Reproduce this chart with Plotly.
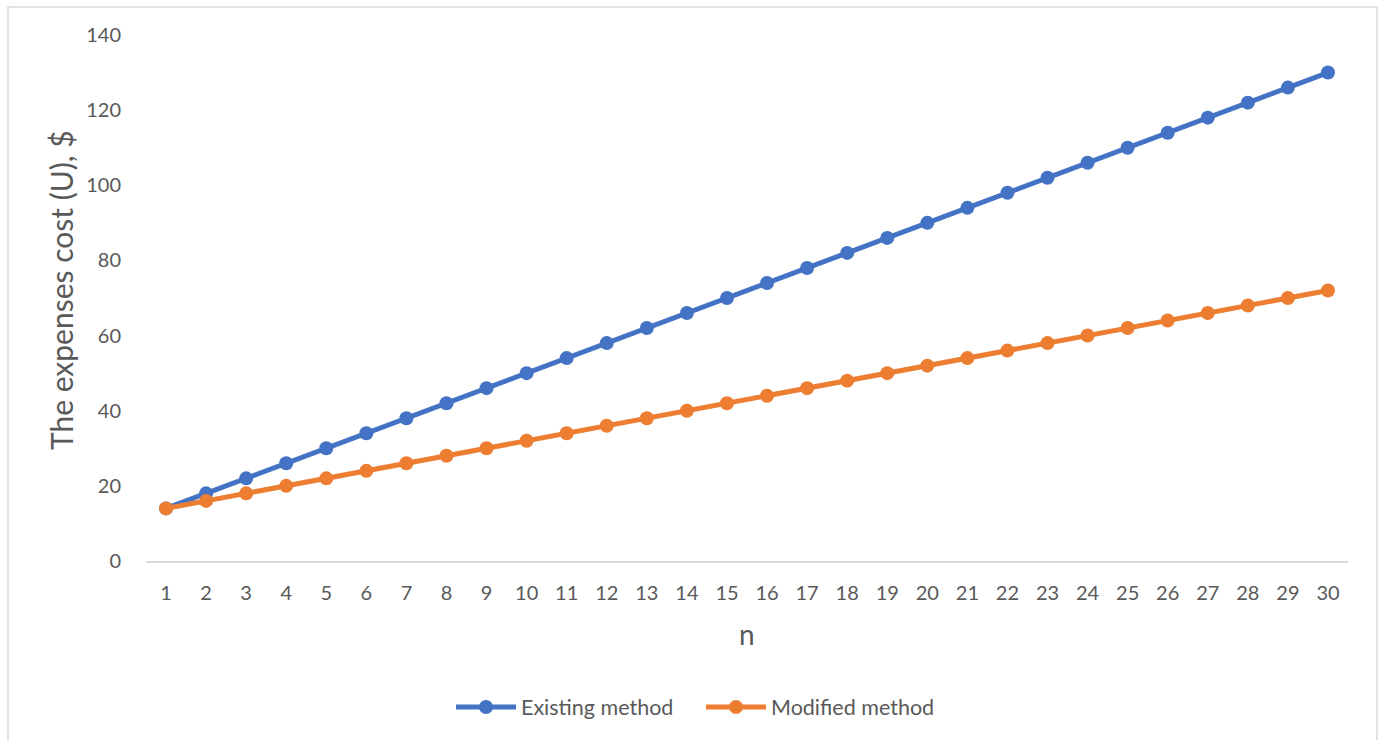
import plotly.graph_objects as go

# Number of items n and the two cost series
n_values = list(range(1, 31))
existing_cost = [14, 18, 22, 26, 30, 34, 38, 42, 46, 50, 54, 58, 62, 66, 70,
                 74, 78, 82, 86, 90, 94, 98, 102, 106, 110, 114, 118, 122, 126, 130]
modified_cost = [14, 16, 18, 20, 22, 24, 26, 28, 30, 32, 34, 36, 38, 40, 42,
                 44, 46, 48, 50, 52, 54, 56, 58, 60, 62, 64, 66, 68, 70, 72]
y_ticks = [0, 20, 40, 60, 80, 100, 120, 140]

FONT = "Lato"
GREY = "#595959"

fig = go.Figure()
fig.add_trace(go.Scatter(
    x=n_values, y=existing_cost, name="Existing method",
    mode="lines+markers",
    line=dict(color="#4472C4", width=5),
    marker=dict(color="#4472C4", size=14),
))
fig.add_trace(go.Scatter(
    x=n_values, y=modified_cost, name="Modified method",
    mode="lines+markers",
    line=dict(color="#ED7D31", width=5),
    marker=dict(color="#ED7D31", size=14),
))

L, R, T, B = 146, 36, 35, 179
W, H = 1384, 740
pw, ph = W - L - R, H - T - B

def px_x(p):
    return (p - L) / pw

def px_y(p):
    return (H - B - p) / ph

fig.update_layout(
    width=W, height=H,
    margin=dict(l=L, r=R, t=T, b=B),
    paper_bgcolor="white", plot_bgcolor="white",
    font=dict(family=FONT, color=GREY, size=20),
    showlegend=True,
    legend=dict(
        orientation="h", x=px_x(701), y=px_y(707),
        xanchor="center", yanchor="middle",
        font=dict(family=FONT, size=21.5, color=GREY),
        itemwidth=60, tracegroupgap=0,
        entrywidth=175, entrywidthmode="pixels",
    ),
    xaxis=dict(
        range=[0.5, 30.5], tickmode="array", tickvals=n_values,
        ticktext=[str(v) for v in n_values],
        showgrid=False, zeroline=False,
        showline=True, linecolor="#d9d9d9", linewidth=2,
        ticks="outside", ticklen=13, tickcolor="rgba(0,0,0,0)",
        tickfont=dict(size=20, color=GREY),
    ),
    yaxis=dict(
        range=[0, 140], tickmode="array", tickvals=y_ticks,
        showgrid=False, zeroline=False, showline=False,
        ticks="outside", ticklen=20, tickcolor="rgba(0,0,0,0)",
        tickfont=dict(size=20, color=GREY),
    ),
    annotations=[
        dict(text="The expenses cost (U), $", xref="paper", yref="paper",
             x=px_x(61), y=px_y(290), textangle=-90, showarrow=False,
             xanchor="center", yanchor="middle",
             font=dict(family=FONT, size=30, color=GREY)),
        dict(text="n", xref="paper", yref="paper",
             x=px_x(747), y=px_y(634), showarrow=False,
             xanchor="center", yanchor="middle",
             font=dict(family=FONT, size=28, color=GREY)),
    ],
    shapes=[
        dict(type="rect", xref="paper", yref="paper",
             x0=px_x(8), x1=px_x(1377), y0=px_y(745), y1=px_y(7),
             line=dict(color="#d9d9d9", width=1.5), fillcolor="rgba(0,0,0,0)",
             layer="below"),
    ],
)

fig.write_html("out.html")
